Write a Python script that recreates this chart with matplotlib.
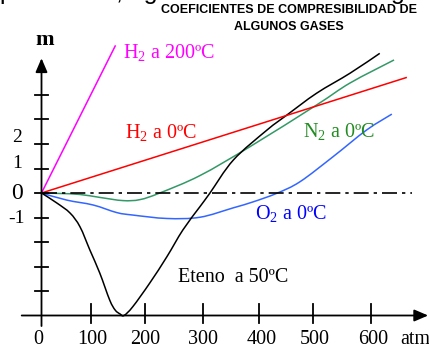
import matplotlib
matplotlib.use("Agg")
import matplotlib.pyplot as plt
from matplotlib.path import Path
from matplotlib.patches import PathPatch

plt.rcParams['font.family'] = ['Liberation Serif', 'DejaVu Serif']
plt.rcParams['mathtext.fontset'] = 'custom'
plt.rcParams['mathtext.rm'] = 'Liberation Serif'
plt.rcParams['mathtext.it'] = 'Liberation Serif:italic'
plt.rcParams['mathtext.bf'] = 'Liberation Serif:bold'

# ---- data (pressure in atm, m) ----
h2_200_p = [0, 134]
h2_200_m = [0, 6.0]

h2_0_p = [0, 663]
h2_0_m = [0, 4.71]

n2_p = [0, 34, 70, 106, 148, 179, 215, 288, 379, 500, 561, 641]
n2_m = [0, -0.02, -0.06, -0.18, -0.31, -0.27, 0.0, 0.71, 1.89, 3.59, 4.49, 5.43]

o2_p = [0, 46, 94, 137, 166, 228, 288, 348, 385, 428, 470, 530, 591, 637]
o2_m = [0, -0.29, -0.49, -0.80, -0.90, -1.04, -0.99, -0.61, -0.36, -0.01, 0.46, 1.48, 2.57, 3.22]

eteno_p = [0, 28, 52, 70, 88, 106, 124, 134, 143, 150, 166, 197, 228, 257,
           288, 306, 349, 410, 446, 500, 561, 615]
eteno_m = [0, -0.41, -0.82, -1.38, -2.33, -3.27, -4.37, -4.78, -4.94, -5.0, -4.64,
           -3.67, -2.6, -1.51, -0.56, -0.01, 1.35, 2.57, 3.18, 4.07, 4.89, 5.7]

# the hand-drawn ticks are not evenly spaced in the original
x_ticks = [90, 188, 294, 396, 494, 599]
x_labels = ['0', '100', '200', '300', '400', '500', '600']
x_label_pos = [-5, 92, 188, 294, 400, 497, 603]
y_ticks = [-4, -3, -2, -1, 0, 1, 2, 3, 4]
y_labels = ['2', '1', '0', '-1']
y_label_pos = [2.27, 1.21, -0.04, -1.06]


def smooth_curve(ax, xs, ys, color, lw):
    # catmull-rom through the read points, drawn as bezier segments
    pts = list(zip(xs, ys))
    verts = [pts[0]]
    codes = [Path.MOVETO]
    n = len(pts)
    for i in range(n - 1):
        p0 = pts[i - 1] if i > 0 else pts[i]
        p1 = pts[i]
        p2 = pts[i + 1]
        p3 = pts[i + 2] if i + 2 < n else pts[i + 1]
        c1 = (p1[0] + (p2[0] - p0[0]) / 6, p1[1] + (p2[1] - p0[1]) / 6)
        c2 = (p2[0] - (p3[0] - p1[0]) / 6, p2[1] - (p3[1] - p1[1]) / 6)
        verts += [c1, c2, p2]
        codes += [Path.CURVE4] * 3
    ax.add_patch(PathPatch(Path(verts, codes), fill=False, edgecolor=color, lw=lw))


fig = plt.figure(figsize=(4.29, 3.5), dpi=100)
ax = fig.add_axes([0, 0, 1, 1])
ax.set_xlim(-41.5 / 0.55, (429 - 41.5) / 0.55)
ax.set_ylim((193 - 350) / 24.5, 193 / 24.5)
ax.axis('off')

lw = 1.1
ax.plot(h2_200_p, h2_200_m, color='#ff00ff', lw=lw)
ax.plot(h2_0_p, h2_0_m, color='#ff0000', lw=lw)
smooth_curve(ax, n2_p, n2_m, '#339966', lw)
smooth_curve(ax, o2_p, o2_m, '#3366ff', lw)
smooth_curve(ax, eteno_p, eteno_m, 'black', lw)

# zero line
ax.plot([0, 674], [0, 0], color='black', lw=1.2, dashes=[9, 3, 2, 3])

# axes with arrows
arrow = dict(arrowstyle='-|>,head_length=0.7,head_width=0.3', mutation_scale=12,
             lw=1.3, color='black', shrinkA=0, shrinkB=0)
ax.annotate('', xy=(703, -5), xytext=(-36, -5), arrowprops=arrow)
ax.annotate('', xy=(0, 5.5), xytext=(0, -5.43), arrowprops=arrow)

for t in x_ticks:
    ax.plot([t, t], [-4.55, -5.3], color='black', lw=1.3)
for t in y_ticks:
    ax.plot([-12.5, 12.5], [t, t], color='black', lw=1.3)

for lab, p in zip(x_labels, x_label_pos):
    ax.text(p, -5.96, lab, fontsize=14.5, ha='center', va='center')
ax.text(652, -5.96, 'atm', fontsize=14.5, ha='left', va='center')

for lab, p in zip(y_labels, y_label_pos):
    fs = 17 if lab == '0' else 14
    ax.text(-45, p, lab, fontsize=fs, ha='center', va='center')

ax.text(-12, 6.04, 'm', fontsize=16, fontweight='bold', ha='left', va='baseline')

ax.text(147.6, 5.5, r'H$_{2}$ a 200ºC', color='#ff00ff', fontsize=14.5, va='baseline')
ax.text(151.8, 2.24, r'H$_{2}$ a 0ºC', color='#ff0000', fontsize=14.5, va='baseline')
ax.text(475, 2.29, r'N$_{2}$ a 0ºC', color='#228b22', fontsize=14.5, va='baseline')
ax.text(388, -1.05, r'O$_{2}$ a 0ºC', color='#0000ff', fontsize=14.5, va='baseline')
ax.text(248, -3.62, 'Eteno  a 50ºC', color='black', fontsize=14.5, va='baseline')

# title
fig.text(289 / 429, 1 - 10 / 350, 'COEFICIENTES DE COMPRESIBILIDAD DE', fontsize=9,
         family='Liberation Sans', fontweight='bold', ha='center', va='center')
fig.text(289 / 429, 1 - 26.7 / 350, 'ALGUNOS GASES', fontsize=9,
         family='Liberation Sans', fontweight='bold', ha='center', va='center')

# cut-off line of text at the very top
fig.text(-1 / 429, 1 + 1 / 350, 'p', fontsize=18, family='Liberation Sans', va='baseline')
fig.text(116 / 429, 1 + 1 / 350, ', ag', fontsize=18, family='Liberation Sans', va='baseline')
fig.text(391 / 429, 1 + 1 / 350, 'g', fontsize=18, family='Liberation Sans', va='baseline')

fig.savefig('out.png', dpi=100)
